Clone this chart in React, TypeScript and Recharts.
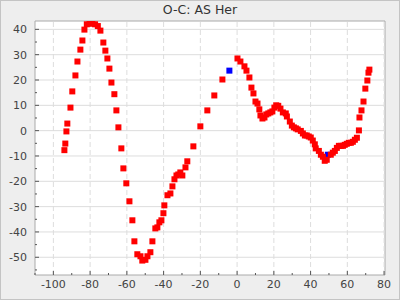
import React from 'react';
import { ScatterChart, Scatter, XAxis, YAxis, ReferenceLine, ReferenceArea, CartesianGrid } from 'recharts';

const title = 'O-C: AS Her';

const redX = [
  -94.0, -93.5, -92.9, -92.4, -90.7, -89.7, -88.0, -86.9, -85.3, -84.2, -83.1,
  -81.8, -80.3, -78.8, -77.3, -75.8, -74.4,
  -72.8, -71.7, -70.6, -69.5, -68.4, -66.8, -65.7, -64.6, -63.0, -61.9, -60.3,
  -58.6, -57.0, -55.9, -54.3, -52.6, -51.6, -49.9, -48.8, -47.2, -46.1, -44.5,
  -43.4, -42.3, -41.2, -40.1, -39.6, -37.9, -36.3, -35.2, -34.1, -33.0, -32.0,
  -30.9, -29.8, -28.1, -27.1, -23.8, -20.0, -16.2, -12.4, -8.0,
  0.2, 1.8, 4.0, 5.1, 6.7, 7.8, 8.9, 10.0, 11.1, 12.1, 12.7, 13.8, 14.9, 15.9,
  17.0, 18.1, 19.2, 20.3, 21.3, 22.4, 23.6, 24.9, 26.5, 27.1, 28.7, 29.8, 30.9,
  32.0, 33.0, 34.7, 35.8, 36.9, 37.9, 39.0, 40.1, 41.2, 42.3, 42.8, 44.5, 45.6,
  46.7, 47.7, 48.8, 51.0, 52.1, 53.2, 54.3, 55.4, 56.5, 57.6, 58.6, 59.7, 60.8,
  61.9, 63.0, 64.1, 65.2, 66.3, 66.6, 67.7, 68.8, 69.8, 70.9, 71.5, 72.0,
];
const redY = [
  -7.7, -5.1, -0.3, 2.8, 9.1, 15.5, 21.8, 27.3, 32.0, 35.6, 39.9,
  42.0, 42.3, 42.3, 42.0, 41.3, 39.5,
  34.8, 31.6, 28.5, 24.5, 19.0, 14.4, 8.0, 1.3, -7.0, -14.9, -20.8,
  -27.9, -35.4, -43.7, -48.8, -49.6, -51.3, -51.0, -49.6, -48.0, -43.7, -38.6,
  -38.2, -36.2, -35.4, -32.6, -29.5, -25.5, -24.8, -22.0, -19.2, -17.7, -17.3,
  -16.5, -17.7, -14.5, -12.1, -6.2, 1.7, 8.0, 13.9, 20.2,
  28.5, 27.3, 25.4, 23.7, 21.0, 17.0, 14.7, 11.5, 10.7, 8.4, 6.0, 4.8, 5.2, 6.4,
  6.8, 7.2, 7.6, 9.1, 10.0, 9.8, 8.7, 7.2, 6.8, 5.6, 3.6, 2.0, 1.3,
  0.9, 0.5, -0.1, -1.1, -1.9, -1.9, -2.3, -2.7, -3.9, -5.4, -7.0, -8.0, -9.5,
  -10.3, -11.9, -11.5, -9.5, -8.7, -8.0, -6.8, -6.0, -6.0, -6.0, -5.6, -5.2, -4.8,
  -4.8, -4.4, -3.6, -2.8, 0.1, 5.2, 8.0, 11.5, 16.6, 19.8, 22.9, 24.1,
];
const blueX = [-4.2, 49.4];
const blueY = [23.7, -9.5];

const xDomain = [-110, 80.5];
const yDomain = [-57, 43.3];
const xTicks = [-110, -100, -90, -80, -70, -60, -50, -40, -30, -20, -10, 0, 10, 20, 30, 40, 50, 60, 70, 80];
const xMajor = [-100, -80, -60, -40, -20, 0, 20, 40, 60, 80];
const yTicks = [-55, -50, -45, -40, -35, -30, -25, -20, -15, -10, -5, 0, 5, 10, 15, 20, 25, 30, 35, 40];
const yMajor = [-50, -40, -30, -20, -10, 0, 10, 20, 30, 40];

const redData = redX.map((x, i) => ({ x, y: redY[i] }));
const blueData = blueX.map((x, i) => ({ x, y: blueY[i] }));

const FONT = '"DejaVu Sans", sans-serif';
const TEXT = '#444444';
const MARK = 6;

const SquareMark = (props: any) => {
  const { cx, cy, fill } = props;
  return <rect x={cx - MARK / 2} y={cy - MARK / 2} width={MARK} height={MARK} fill={fill} />;
};

const XTick = (props: any) => {
  const { x, y, payload } = props;
  const v = payload.value;
  const major = xMajor.includes(v);
  return (
    <g>
      <line x1={x} x2={x} y1={y} y2={y - (major ? 4 : 2)} stroke="#555" />
      {major && (
        <text x={x} y={y + 13} textAnchor="middle" fontSize={11} fontFamily={FONT} fill={TEXT}>
          {v}
        </text>
      )}
    </g>
  );
};

const YTick = (props: any) => {
  const { x, y, payload } = props;
  const v = payload.value;
  const major = yMajor.includes(v);
  return (
    <g>
      <line x1={x} x2={x + (major ? 4 : 2)} y1={y} y2={y} stroke="#555" />
      {major && (
        <text x={x - 8} y={y} dy="0.36em" textAnchor="end" fontSize={11} fontFamily={FONT} fill={TEXT}>
          {v}
        </text>
      )}
    </g>
  );
};

export default function App() {
  return (
    <div style={{ position: 'absolute', left: 0, top: 0, width: 400, height: 300, background: '#eeeeee' }}>
      <div
        style={{
          position: 'absolute',
          left: 0,
          top: 1,
          width: 400,
          textAlign: 'center',
          fontFamily: FONT,
          fontSize: 12.5,
          color: '#333333',
          lineHeight: '18px',
        }}
      >
        {title}
      </div>
      <ScatterChart width={400} height={300} margin={{ top: 21, right: 15, bottom: 0, left: 0 }}>
        <CartesianGrid fill="#ffffff" horizontal={false} vertical={false} />
        <XAxis
          type="number"
          dataKey="x"
          domain={xDomain}
          ticks={xTicks}
          allowDataOverflow
          height={25}
          tickSize={0}
          tickMargin={0}
          tickLine={false}
          axisLine={false}
          tick={<XTick />}
          interval={0}
        />
        <YAxis
          type="number"
          dataKey="y"
          domain={yDomain}
          ticks={yTicks}
          allowDataOverflow
          width={35}
          tickSize={0}
          tickMargin={0}
          tickLine={false}
          axisLine={false}
          tick={<YTick />}
          interval={0}
        />
        {yMajor.map((v) => (
          <ReferenceLine key={'h' + v} y={v} stroke="#dddddd" strokeWidth={1} />
        ))}
        {xMajor.map((v) => (
          <ReferenceLine key={'v' + v} x={v} stroke="#dddddd" strokeWidth={1} strokeDasharray="5 3" />
        ))}
        <ReferenceArea x1={xDomain[0]} x2={xDomain[1]} y1={yDomain[0]} y2={yDomain[1]} fill="none" stroke="#aaaaaa" />
        <Scatter data={blueData} fill="#0000ff" shape={<SquareMark />} legendType="none" isAnimationActive={false} />
        <Scatter data={redData} fill="#ff0000" shape={<SquareMark />} legendType="none" isAnimationActive={false} />
      </ScatterChart>
      <div
        style={{
          position: 'absolute',
          left: 0,
          top: 0,
          width: 400,
          height: 300,
          boxSizing: 'border-box',
          border: '1px solid #c4c4c4',
          pointerEvents: 'none',
        }}
      />
    </div>
  );
}
